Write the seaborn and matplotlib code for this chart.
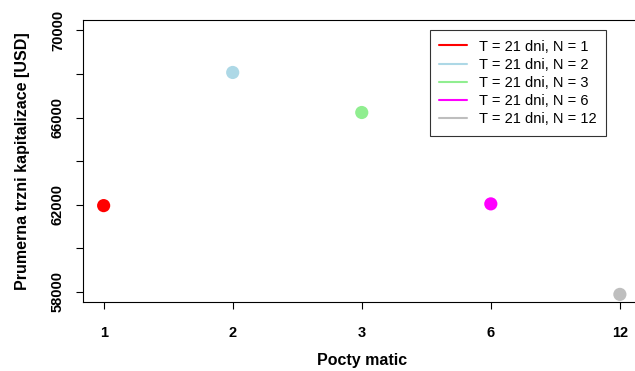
import matplotlib
matplotlib.use("Agg")
import matplotlib.pyplot as plt
import seaborn as sns
import pandas as pd
from matplotlib.lines import Line2D

sns.set_style("white")
plt.rcParams['font.family'] = ['Liberation Sans', 'DejaVu Sans']
plt.rcParams['text.color'] = 'black'
plt.rcParams['axes.labelcolor'] = 'black'
plt.rcParams['xtick.color'] = 'black'
plt.rcParams['ytick.color'] = 'black'

categories = ["1", "2", "3", "6", "12"]
values = [61950, 68070, 66230, 62030, 57870]
labels = ["T = 21 dni, N = 1", "T = 21 dni, N = 2", "T = 21 dni, N = 3",
          "T = 21 dni, N = 6", "T = 21 dni, N = 12"]
colors = ["#FF0000", "#ADD8E6", "#90EE90", "#FF00FF", "#BEBEBE"]
yticks = [58000, 60000, 62000, 64000, 66000, 68000, 70000]
ytick_labels = ["58000", "", "62000", "", "66000", "", "70000"]

df = pd.DataFrame({"pos": list(range(1, len(categories) + 1)),
                   "value": values, "label": labels})

fig = plt.figure(figsize=(6.35, 3.71), dpi=100)
ax = fig.add_axes([0.1307, 0.186, 0.878, 0.760])
sns.scatterplot(data=df, x="pos", y="value", hue="label", palette=colors,
                s=90, linewidth=0, ax=ax, legend=False, zorder=3)

ax.set_xlim(0.84, 5.16)
ax.set_ylim(57520, 70480)
ax.set_xticks(df["pos"])
ax.set_xticklabels(categories, fontweight="bold", fontsize=10.5)
ax.set_yticks(yticks)
ax.set_yticklabels(ytick_labels, fontweight="bold", fontsize=10.5, rotation=90, va="center")
ax.tick_params(axis="both", direction="out", length=5, width=0.8, color="black",
               labelcolor="black", bottom=True, left=True)
ax.tick_params(axis="x", pad=12)
ax.tick_params(axis="y", pad=8)
for side in ["left", "bottom", "top", "right"]:
    ax.spines[side].set_visible(True)
    ax.spines[side].set_color("black")
    ax.spines[side].set_linewidth(0.8)

ax.set_xlabel("Pocty matic", fontweight="bold", fontsize=11.5, labelpad=10)
ax.set_ylabel("Prumerna trzni kapitalizace [USD]", fontweight="bold", fontsize=11.5, labelpad=15)

handles = [Line2D([0], [0], color=c, lw=1.5) for c in colors]
leg = ax.legend(handles, labels, loc="upper right", bbox_to_anchor=(0.938, 0.9645),
                borderaxespad=0, fontsize=10.5, frameon=True, fancybox=False,
                edgecolor="black", handlelength=1.9, borderpad=0.65,
                labelspacing=0.29, handletextpad=0.82)
leg.get_frame().set_linewidth(0.8)

fig.savefig("out.png", dpi=100)
